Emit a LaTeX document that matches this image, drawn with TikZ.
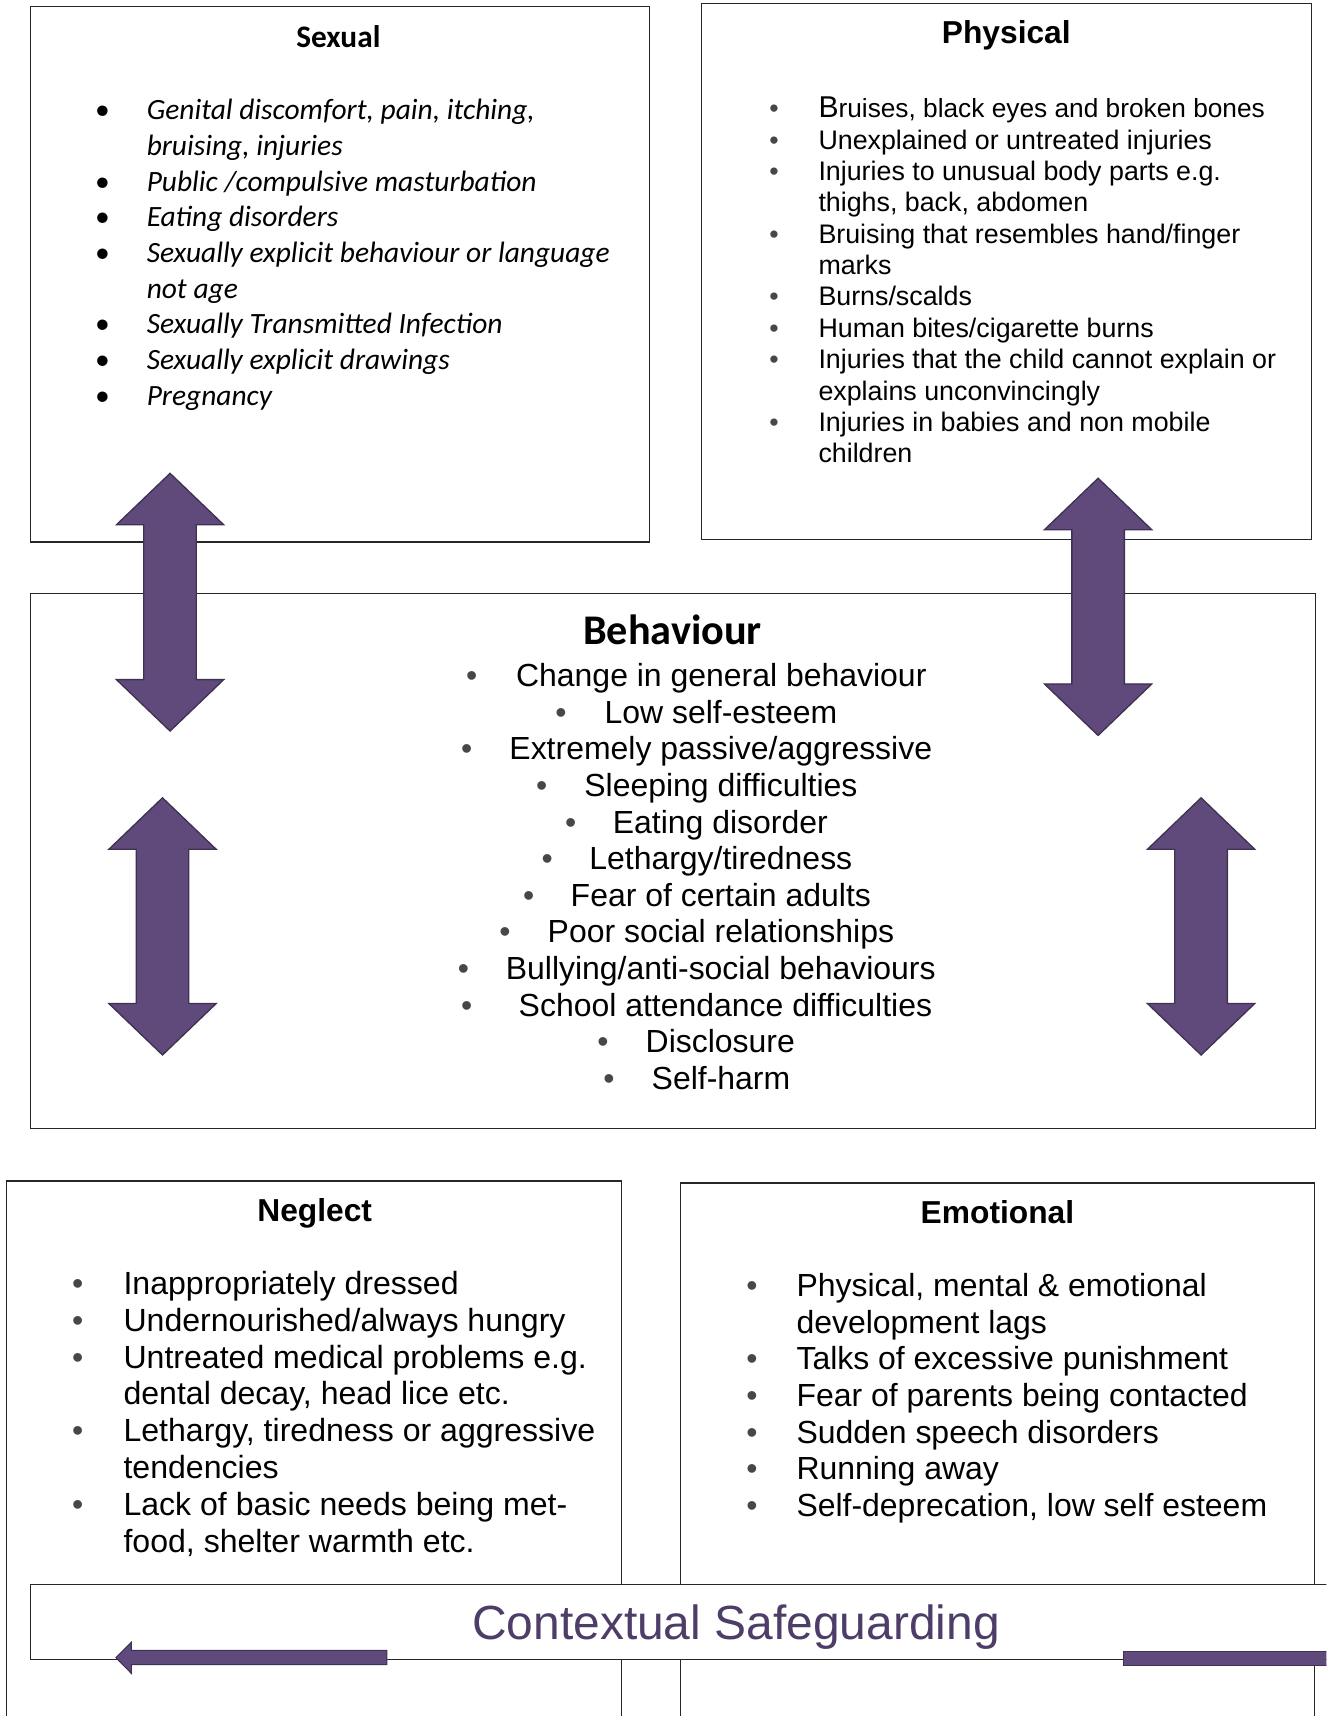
\documentclass[tikz,border=0pt]{standalone}
\usepackage{fontspec}
\setmainfont{Liberation Sans}
\newfontfamily\calibri{Carlito}
\definecolor{arrowfill}{HTML}{604A7B}
\definecolor{arrowline}{HTML}{3F3151}
\definecolor{ctxtext}{HTML}{4E3D68}
\tikzset{
  box/.style={draw=black!85, line width=1.1pt, fill=white},
  blockarrow/.style={fill=arrowfill, draw=arrowline, line width=1.2pt, line join=miter},
  txt/.style={inner sep=0pt, outer sep=0pt},
  sextitle/.style={txt, font=\calibri\bfseries\fontsize{28.6}{34}\selectfont},
  sexitem/.style={txt, font=\calibri\itshape\fontsize{26.9}{32.6}\selectfont},
  phystitle/.style={txt, font=\bfseries\fontsize{29}{34}\selectfont},
  physitem/.style={txt, font=\fontsize{24.5}{28.6}\selectfont},
  behtitle/.style={txt, font=\calibri\bfseries\fontsize{38.6}{46}\selectfont},
  behitem/.style={txt, font=\fontsize{29.2}{33.5}\selectfont},
  negtitle/.style={txt, font=\bfseries\fontsize{29}{34}\selectfont},
  negitem/.style={txt, font=\fontsize{29.3}{33.7}\selectfont},
  emoitem/.style={txt, font=\fontsize{29.2}{33.5}\selectfont},
  ctxtitle/.style={txt, text=ctxtext, font=\fontsize{43.8}{50}\selectfont},
}
% style, name, bullet x, text x, baseline, text  (grey bullet)
\newcommand\itm[6]{%
  \node[#1, anchor=base, text=black!72] (#2b) at (#3,#5) {•};
  \node[#1, anchor=base west] (#2) at (#4,#5) {#6};}
% style, name, bullet x, text x, baseline, text  (black bullet)
\newcommand\itmf[6]{%
  \node[#1, anchor=base] (#2b) at (#3,#5) {•};
  \node[#1, anchor=base west] (#2) at (#4,#5) {#6};}
% style, name, text x, baseline, text
\newcommand\cnt[5]{\node[#1, anchor=base west] (#2) at (#3,#4) {#5};}
% vertical double block arrow: centre x, top tip y, bottom tip y
\newcommand\vdarrow[3]{%
  \draw[blockarrow] (#1,#2) -- ({#1+49},{#2+47}) -- ({#1+24},{#2+47}) -- ({#1+24},{#3-47})
    -- ({#1+49},{#3-47}) -- (#1,#3) -- ({#1-49},{#3-47}) -- ({#1-24},{#3-47})
    -- ({#1-24},{#2+47}) -- ({#1-49},{#2+47}) -- cycle;}
\begin{document}
\begin{tikzpicture}[x=1pt,y=-1pt]
\clip (0,0) rectangle (1212,1568);
\fill[white] (0,0) rectangle (1212,1568);

% ---------- Sexual ----------
\draw[box] (28,6) rectangle (593.3,495.3);
\node[sextitle, anchor=base] (sextit) at (309.2,43.4) {Sexual};
\itmf{sexitem}{s1}{93.5}{134.1}{109.4}{Genital discomfort, pain, itching,}
\cnt{sexitem}{s1a}{134.1}{142.0}{bruising, injuries}
\itmf{sexitem}{s2}{93.5}{134.1}{174.6}{Public /compulsive masturbation}
\itmf{sexitem}{s3}{93.5}{134.1}{207.2}{Eating disorders}
\itmf{sexitem}{s4}{93.5}{134.1}{239.8}{Sexually explicit behaviour or language}
\cnt{sexitem}{s4a}{134.1}{272.4}{not age}
\itmf{sexitem}{s5}{93.5}{134.1}{305.0}{Sexually Transmitted Infection}
\itmf{sexitem}{s6}{93.5}{134.1}{337.6}{Sexually explicit drawings}
\itmf{sexitem}{s7}{93.5}{134.1}{370.2}{Pregnancy}

% ---------- Physical ----------
\draw[box] (640.8,3.5) rectangle (1198.5,492.8);
\node[phystitle, anchor=base] (phystit) at (919.5,39.8) {Physical};
\itm{physitem}{p1}{707.3}{747.9}{107.7}{{\fontsize{27.5}{29}\selectfont B}{\fontsize{24}{28.6}\selectfont ruises, black eyes and broken bones}}
\itm{physitem}{p2}{707.3}{747.9}{136.35}{Unexplained or untreated injuries}
\itm{physitem}{p3}{707.3}{747.9}{165.0}{Injuries to unusual body parts e.g.}
\cnt{physitem}{p3a}{747.9}{193.65}{thighs, back, abdomen}
\itm{physitem}{p4}{707.3}{747.9}{222.3}{Bruising that resembles hand/finger}
\cnt{physitem}{p4a}{747.9}{250.95}{marks}
\itm{physitem}{p5}{707.3}{747.9}{279.6}{Burns/scalds}
\itm{physitem}{p6}{707.3}{747.9}{308.25}{Human bites/cigarette burns}
\itm{physitem}{p7}{707.3}{747.9}{336.9}{Injuries that the child cannot explain or}
\cnt{physitem}{p7a}{747.9}{365.55}{explains unconvincingly}
\itm{physitem}{p8}{707.3}{747.9}{394.2}{Injuries in babies and non mobile}
\cnt{physitem}{p8a}{747.9}{422.85}{children}

% ---------- Behaviour ----------
\draw[box] (27.8,542.6) rectangle (1202,1031.3);
\node[behtitle, anchor=base] (behtit) at (614.5,589) {Behaviour};
\itm{behitem}{b1}{431}{471.6}{627.5}{Change in general behaviour}
\itm{behitem}{b2}{512.5}{552.5}{660.95}{Low self-esteem}
\itm{behitem}{b3}{426.5}{465.5}{694.4}{Extremely passive/aggressive}
\itm{behitem}{b4}{495}{534}{727.85}{Sleeping difficulties}
\itm{behitem}{b5}{521.5}{560}{761.3}{Eating disorder}
\itm{behitem}{b6}{500}{538.5}{794.75}{Lethargy/tiredness}
\itm{behitem}{b7}{483}{521.5}{828.2}{Fear of certain adults}
\itm{behitem}{b8}{461.5}{500.5}{861.65}{Poor social relationships}
\itm{behitem}{b9}{423.5}{462.2}{895.1}{Bullying/anti-social behaviours}
\itm{behitem}{b10}{426.5}{474}{928.55}{School attendance difficulties}
\itm{behitem}{b11}{551}{590}{962.0}{Disclosure}
\itm{behitem}{b12}{556.5}{595.5}{995.45}{Self-harm}

% ---------- block arrows ----------
\vdarrow{155.4}{432.5}{668}
\vdarrow{1003.4}{437}{672}
\vdarrow{148.5}{729}{964}
\vdarrow{1097.5}{729}{964}

% ---------- Neglect ----------
\draw[box] (5.8,1079.2) rectangle (568.2,1620);
\node[negtitle, anchor=base] (negtit) at (287.6,1116) {Neglect};
\itm{negitem}{n1}{71}{112.9}{1182.8}{Inappropriately dressed}
\itm{negitem}{n2}{71}{112.9}{1216.5}{Undernourished/always hungry}
\itm{negitem}{n3}{71}{112.9}{1250.1}{Untreated medical problems e.g.}
\cnt{negitem}{n3a}{112.9}{1283.8}{dental decay, head lice etc.}
\itm{negitem}{n4}{71}{112.9}{1317.4}{Lethargy, tiredness or aggressive}
\cnt{negitem}{n4a}{112.9}{1351.1}{tendencies}
\itm{negitem}{n5}{71}{112.9}{1384.8}{Lack of basic needs being met-}
\cnt{negitem}{n5a}{112.9}{1418.4}{food, shelter warmth etc.}

% ---------- Emotional ----------
\draw[box] (621.5,1081) rectangle (1201,1620);
\node[negtitle, anchor=base] (emotit) at (911.4,1118.2) {Emotional};
\itm{emoitem}{e1}{687.2}{727.8}{1184.6}{Physical, mental \& emotional}
\cnt{emoitem}{e1a}{727.8}{1218.1}{development lags}
\itm{emoitem}{e2}{687.2}{727.8}{1251.7}{Talks of excessive punishment}
\itm{emoitem}{e3}{687.2}{727.8}{1285.2}{Fear of parents being contacted}
\itm{emoitem}{e4}{687.2}{727.8}{1318.7}{Sudden speech disorders}
\itm{emoitem}{e5}{687.2}{727.8}{1352.3}{Running away}
\itm{emoitem}{e6}{687.2}{727.8}{1385.8}{Self-deprecation, low self esteem}

% ---------- Contextual Safeguarding ----------
\draw[box] (27.8,1448) rectangle (1260,1516.7);
\node[ctxtitle, anchor=base] (ctx) at (672.5,1498.5) {Contextual Safeguarding};
\draw[blockarrow, line width=1pt] (106,1514.7) -- (120,1500.6) -- (120,1508) -- (353.5,1508)
  -- (353.5,1521) -- (120,1521) -- (120,1529) -- cycle;
\draw[blockarrow, line width=1pt] (1027,1509) rectangle (1260,1522);
\end{tikzpicture}
\end{document}
